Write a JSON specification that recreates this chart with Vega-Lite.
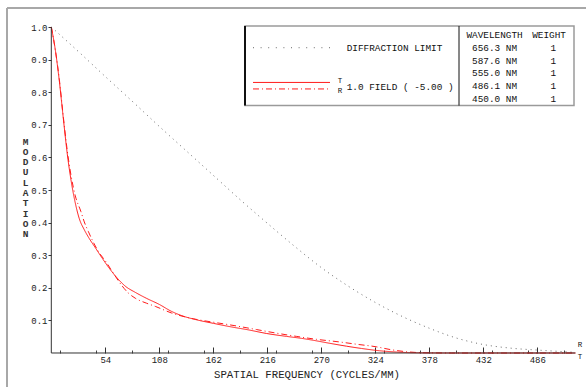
{
  "$schema": "https://vega.github.io/schema/vega-lite/v6.json",
  "width": 582,
  "height": 382,
  "autosize": {"type": "none"},
  "padding": {"left": 7, "top": 8, "right": -3, "bottom": -3},
  "background": "white",
  "config": {
    "view": {"stroke": null},
    "font": "Liberation Mono",
    "text": {"font": "Liberation Mono", "color": "#111", "fontSize": 9.4}
  },
  "datasets": {
    "curves": [
      {"series": "DIFF", "nu": 0, "mtf": 1.0},
      {"series": "DIFF", "nu": 27, "mtf": 0.925},
      {"series": "DIFF", "nu": 54, "mtf": 0.848},
      {"series": "DIFF", "nu": 81, "mtf": 0.772},
      {"series": "DIFF", "nu": 108, "mtf": 0.695},
      {"series": "DIFF", "nu": 135, "mtf": 0.62},
      {"series": "DIFF", "nu": 162, "mtf": 0.545},
      {"series": "DIFF", "nu": 189, "mtf": 0.47},
      {"series": "DIFF", "nu": 216, "mtf": 0.398},
      {"series": "DIFF", "nu": 243, "mtf": 0.328},
      {"series": "DIFF", "nu": 270, "mtf": 0.262},
      {"series": "DIFF", "nu": 297, "mtf": 0.205},
      {"series": "DIFF", "nu": 324, "mtf": 0.155},
      {"series": "DIFF", "nu": 351, "mtf": 0.112},
      {"series": "DIFF", "nu": 378, "mtf": 0.076},
      {"series": "DIFF", "nu": 405, "mtf": 0.046},
      {"series": "DIFF", "nu": 432, "mtf": 0.026},
      {"series": "DIFF", "nu": 459, "mtf": 0.015},
      {"series": "DIFF", "nu": 486, "mtf": 0.009},
      {"series": "DIFF", "nu": 513, "mtf": 0.004},
      {"series": "DIFF", "nu": 524, "mtf": 0.002},
      {"series": "T", "nu": 0, "mtf": 1.0},
      {"series": "T", "nu": 4, "mtf": 0.93},
      {"series": "T", "nu": 8, "mtf": 0.835},
      {"series": "T", "nu": 12, "mtf": 0.72},
      {"series": "T", "nu": 16, "mtf": 0.61},
      {"series": "T", "nu": 20, "mtf": 0.525},
      {"series": "T", "nu": 24, "mtf": 0.46},
      {"series": "T", "nu": 28, "mtf": 0.412},
      {"series": "T", "nu": 33, "mtf": 0.378},
      {"series": "T", "nu": 38, "mtf": 0.351},
      {"series": "T", "nu": 44, "mtf": 0.323},
      {"series": "T", "nu": 50, "mtf": 0.295},
      {"series": "T", "nu": 57, "mtf": 0.264},
      {"series": "T", "nu": 65, "mtf": 0.233},
      {"series": "T", "nu": 74, "mtf": 0.205},
      {"series": "T", "nu": 84, "mtf": 0.186},
      {"series": "T", "nu": 95, "mtf": 0.168},
      {"series": "T", "nu": 108, "mtf": 0.149},
      {"series": "T", "nu": 120, "mtf": 0.128},
      {"series": "T", "nu": 130, "mtf": 0.115},
      {"series": "T", "nu": 145, "mtf": 0.102},
      {"series": "T", "nu": 162, "mtf": 0.091},
      {"series": "T", "nu": 180, "mtf": 0.08},
      {"series": "T", "nu": 197, "mtf": 0.071},
      {"series": "T", "nu": 215, "mtf": 0.06},
      {"series": "T", "nu": 235, "mtf": 0.051},
      {"series": "T", "nu": 250, "mtf": 0.045},
      {"series": "T", "nu": 262, "mtf": 0.039},
      {"series": "T", "nu": 278, "mtf": 0.03},
      {"series": "T", "nu": 295, "mtf": 0.021},
      {"series": "T", "nu": 310, "mtf": 0.014},
      {"series": "T", "nu": 328, "mtf": 0.007},
      {"series": "T", "nu": 345, "mtf": 0.003},
      {"series": "T", "nu": 360, "mtf": 0.001},
      {"series": "T", "nu": 400, "mtf": 0},
      {"series": "T", "nu": 524, "mtf": 0},
      {"series": "S", "nu": 0, "mtf": 1.0},
      {"series": "S", "nu": 4, "mtf": 0.93},
      {"series": "S", "nu": 8, "mtf": 0.84},
      {"series": "S", "nu": 12, "mtf": 0.725},
      {"series": "S", "nu": 16, "mtf": 0.62},
      {"series": "S", "nu": 20, "mtf": 0.54},
      {"series": "S", "nu": 24, "mtf": 0.482},
      {"series": "S", "nu": 29.6, "mtf": 0.434},
      {"series": "S", "nu": 33, "mtf": 0.402},
      {"series": "S", "nu": 37, "mtf": 0.373},
      {"series": "S", "nu": 42, "mtf": 0.34},
      {"series": "S", "nu": 47, "mtf": 0.312},
      {"series": "S", "nu": 55.5, "mtf": 0.276},
      {"series": "S", "nu": 62, "mtf": 0.245},
      {"series": "S", "nu": 70.5, "mtf": 0.207},
      {"series": "S", "nu": 77, "mtf": 0.184},
      {"series": "S", "nu": 84, "mtf": 0.168},
      {"series": "S", "nu": 95, "mtf": 0.153},
      {"series": "S", "nu": 104, "mtf": 0.143},
      {"series": "S", "nu": 120, "mtf": 0.123},
      {"series": "S", "nu": 142, "mtf": 0.105},
      {"series": "S", "nu": 165, "mtf": 0.093},
      {"series": "S", "nu": 185, "mtf": 0.083},
      {"series": "S", "nu": 205, "mtf": 0.072},
      {"series": "S", "nu": 225, "mtf": 0.061},
      {"series": "S", "nu": 245, "mtf": 0.051},
      {"series": "S", "nu": 265, "mtf": 0.042},
      {"series": "S", "nu": 288, "mtf": 0.034},
      {"series": "S", "nu": 305, "mtf": 0.027},
      {"series": "S", "nu": 325, "mtf": 0.019},
      {"series": "S", "nu": 340, "mtf": 0.01},
      {"series": "S", "nu": 355, "mtf": 0.004},
      {"series": "S", "nu": 370, "mtf": 0.001},
      {"series": "S", "nu": 400, "mtf": 0},
      {"series": "S", "nu": 524, "mtf": 0}
    ]
  },
  "resolve": {"axis": {"x": "independent"}},
  "layer": [
    {
      "data": {"name": "curves"},
      "mark": {"type": "line", "interpolate": "monotone", "strokeWidth": 1, "clip": true},
      "encoding": {
        "x": {
          "field": "nu", "type": "quantitative",
          "scale": {"domain": [-44.3, 537.7], "nice": false, "zero": false},
          "axis": {
            "orient": "bottom", "offset": -37,
            "values": [54, 108, 162, 216, 270, 324, 378, 432, 486],
            "domain": false, "grid": false,
            "tickSize": -6, "tickColor": "#333", "tickWidth": 1,
            "labelPadding": 8, "labelFont": "Liberation Mono", "labelFontSize": 9, "labelColor": "#222", "labelFlush": false,
            "title": "SPATIAL FREQUENCY (CYCLES/MM)",
            "titleFont": "Liberation Mono", "titleFontSize": 10.7, "titleFontWeight": "normal", "titleColor": "#222",
            "titleX": 299.5, "titleY": 21, "titleBaseline": "middle", "titleAlign": "center", "titleAnchor": null
          }
        },
        "y": {
          "field": "mtf", "type": "quantitative",
          "scale": {"domain": [-0.1135, 1.0583], "nice": false, "zero": false},
          "axis": {
            "orient": "left", "offset": -44,
            "values": [0.1, 0.2, 0.3, 0.4, 0.5, 0.6, 0.7, 0.8, 0.9, 1.0],
            "format": ".1f",
            "domain": false, "grid": false,
            "tickSize": 3, "tickColor": "#333",
            "labelPadding": 1, "labelFont": "Liberation Mono", "labelFontSize": 9, "labelColor": "#222",
            "title": ["M", "O", "D", "U", "L", "A", "T", "I", "O", "N"],
            "titleAngle": 0, "titleX": -26, "titleY": 128, "titleBaseline": "top", "titleAlign": "center",
            "titleLineHeight": 10.3, "titleFontSize": 9.5, "titleFontWeight": "bold", "titleFont": "Liberation Mono", "titleColor": "#333"
          }
        },
        "color": {"field": "series", "type": "nominal", "scale": {"domain": ["DIFF", "T", "S"], "range": ["#6a6a6a", "#ff1a1a", "#ff1a1a"]}, "legend": null},
        "strokeDash": {"field": "series", "type": "nominal", "scale": {"domain": ["DIFF", "T", "S"], "range": [[1, 4], [1, 0], [6, 3, 1, 3]]}, "legend": null},
        "detail": {"field": "series"}
      }
    },
    {
      "data": {"values": [{}]},
      "layer": [
        {
          "mark": {"type": "rule", "color": "#333", "strokeWidth": 1},
          "encoding": {
            "x": {"datum": 0, "type": "quantitative",
              "axis": {
                "orient": "bottom", "offset": -37,
                "values": [9,18,27,36,45,54,63,72,81,90,99,108,117,126,135,144,153,162,171,180,189,198,207,216,225,234,243,252,261,270,279,288,297,306,315,324,333,342,351,360,369,378,387,396,405,414,423,432,441,450,459,468,477,486,495,504,513,522],
                "domain": false, "grid": false, "labels": false,
                "tickSize": -3, "tickColor": "#444", "title": null
              }
            },
            "x2": {"datum": 524},
            "y": {"datum": 0, "type": "quantitative"}
          }
        },
        {
          "mark": {"type": "rule", "color": "#333", "strokeWidth": 1},
          "encoding": {"x": {"datum": 0, "type": "quantitative"}, "y": {"datum": 0, "type": "quantitative"}, "y2": {"datum": 1}}
        },
        {
          "mark": {"type": "rule", "color": "#a8a8a8", "strokeWidth": 2},
          "encoding": {"x": {"datum": -44.3, "type": "quantitative"}, "x2": {"datum": 537.7}, "y": {"datum": 1.0583, "type": "quantitative"}}
        },
        {
          "mark": {"type": "rule", "color": "#a8a8a8", "strokeWidth": 2},
          "encoding": {"x": {"datum": -44.3, "type": "quantitative"}, "y": {"datum": 1.0583, "type": "quantitative"}, "y2": {"datum": -0.1135}}
        },
        {
          "mark": {"type": "rect", "fill": "white", "stroke": "#9a9a9a", "strokeWidth": 1.5},
          "encoding": {"x": {"datum": 193.7, "type": "quantitative"}, "x2": {"datum": 522.7}, "y": {"datum": 1.003, "type": "quantitative"}, "y2": {"datum": 0.759}}
        },
        {
          "mark": {"type": "rule", "color": "#111", "strokeWidth": 2},
          "encoding": {"x": {"datum": 193.7, "type": "quantitative"}, "y": {"datum": 1.003, "type": "quantitative"}, "y2": {"datum": 0.759}}
        },
        {
          "mark": {"type": "rule", "color": "#111", "strokeWidth": 1},
          "encoding": {"x": {"datum": 407.7, "type": "quantitative"}, "y": {"datum": 1.003, "type": "quantitative"}, "y2": {"datum": 0.759}}
        },
        {
          "mark": {"type": "rule", "color": "#6a6a6a", "strokeWidth": 1, "strokeDash": [1, 6.6]},
          "encoding": {"x": {"datum": 201.7, "type": "quantitative"}, "x2": {"datum": 280.7}, "y": {"datum": 0.9365, "type": "quantitative"}}
        },
        {
          "mark": {"type": "rule", "color": "#ff1a1a", "strokeWidth": 1},
          "encoding": {"x": {"datum": 201.7, "type": "quantitative"}, "x2": {"datum": 278.7}, "y": {"datum": 0.83, "type": "quantitative"}}
        },
        {
          "mark": {"type": "rule", "color": "#ff1a1a", "strokeWidth": 1, "strokeDash": [6, 3, 1, 3]},
          "encoding": {"x": {"datum": 201.7, "type": "quantitative"}, "x2": {"datum": 278.7}, "y": {"datum": 0.81, "type": "quantitative"}}
        },
        {
          "mark": {"type": "text", "text": "DIFFRACTION LIMIT", "align": "left", "baseline": "middle"},
          "encoding": {"x": {"datum": 295.4, "type": "quantitative"}, "y": {"datum": 0.9365, "type": "quantitative"}}
        },
        {
          "mark": {"type": "text", "text": "1.0 FIELD ( -5.00 )", "align": "left", "baseline": "middle"},
          "encoding": {"x": {"datum": 295.4, "type": "quantitative"}, "y": {"datum": 0.817, "type": "quantitative"}}
        },
        {
          "mark": {"type": "text", "text": "T", "align": "left", "baseline": "middle", "fontSize": 7.5},
          "encoding": {"x": {"datum": 286.4, "type": "quantitative"}, "y": {"datum": 0.833, "type": "quantitative"}}
        },
        {
          "mark": {"type": "text", "text": "R", "align": "left", "baseline": "middle", "fontSize": 7.5},
          "encoding": {"x": {"datum": 286.4, "type": "quantitative"}, "y": {"datum": 0.805, "type": "quantitative"}}
        },
        {
          "mark": {"type": "text", "text": "WAVELENGTH", "align": "center", "baseline": "middle"},
          "encoding": {"x": {"datum": 443.2, "type": "quantitative"}, "y": {"datum": 0.9755, "type": "quantitative"}}
        },
        {
          "mark": {"type": "text", "text": ["656.3 NM", "587.6 NM", "555.0 NM", "486.1 NM", "450.0 NM"], "align": "center", "baseline": "middle", "lineHeight": 12.8},
          "encoding": {"x": {"datum": 443.2, "type": "quantitative"}, "y": {"datum": 0.9365, "type": "quantitative"}}
        },
        {
          "mark": {"type": "text", "text": "WEIGHT", "align": "center", "baseline": "middle"},
          "encoding": {"x": {"datum": 497.7, "type": "quantitative"}, "y": {"datum": 0.9755, "type": "quantitative"}}
        },
        {
          "mark": {"type": "text", "text": ["1", "1", "1", "1", "1"], "align": "center", "baseline": "middle", "lineHeight": 12.8},
          "encoding": {"x": {"datum": 502, "type": "quantitative"}, "y": {"datum": 0.9365, "type": "quantitative"}}
        },
        {
          "mark": {"type": "text", "text": "R", "align": "left", "baseline": "middle", "fontSize": 7.5},
          "encoding": {"x": {"datum": 526.5, "type": "quantitative"}, "y": {"datum": 0.025, "type": "quantitative"}}
        },
        {
          "mark": {"type": "text", "text": "T", "align": "left", "baseline": "middle", "fontSize": 7.5},
          "encoding": {"x": {"datum": 526.5, "type": "quantitative"}, "y": {"datum": -0.011, "type": "quantitative"}}
        }
      ]
    }
  ]
}
